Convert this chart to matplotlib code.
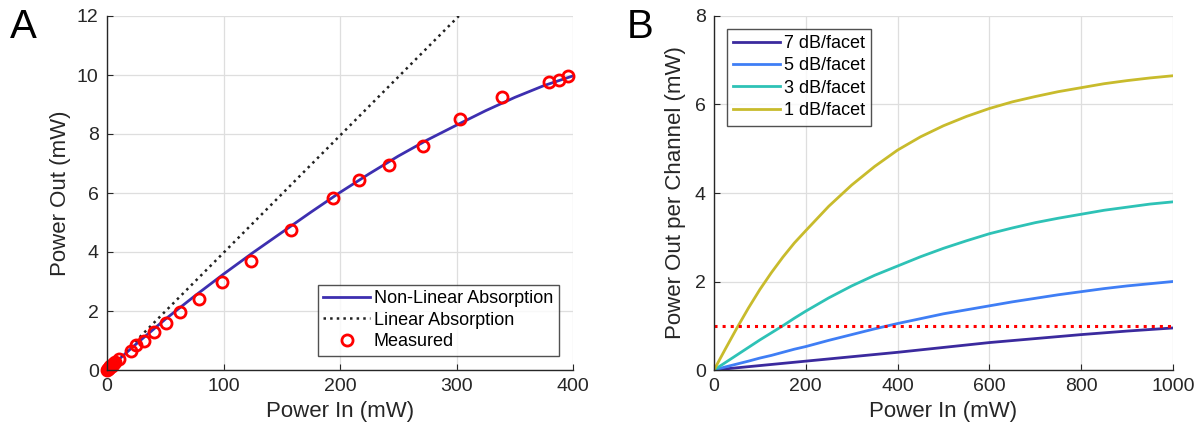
import numpy as np
import matplotlib
matplotlib.use('Agg')
import matplotlib.pyplot as plt

plt.rcParams['font.family'] = ['Liberation Sans', 'DejaVu Sans']

# ---- Panel A data ----
meas_in = [0, 0.5, 1, 1.5, 2, 2.5, 3, 4, 5, 6, 7, 10.3, 20.3, 24.9, 31.8, 40.3, 50.6, 62.9,
           78.6, 99, 123.6, 158, 193.7, 216.6, 242.4, 271, 303, 339.3, 379.7, 388.3, 396]
meas_out = [0, 0.02, 0.04, 0.06, 0.08, 0.1, 0.12, 0.15, 0.19, 0.23, 0.27, 0.37, 0.65, 0.84, 0.99,
            1.28, 1.60, 1.98, 2.40, 2.98, 3.68, 4.75, 5.83, 6.45, 6.95, 7.59, 8.52, 9.26, 9.76,
            9.83, 9.95]
nl_in = [0, 25, 50, 75, 100, 125, 150, 175, 200, 225, 250, 275, 300, 325, 350, 375, 400]
nl_out = [0, 0.88, 1.72, 2.50, 3.25, 3.97, 4.66, 5.35, 6.02, 6.65, 7.25, 7.80, 8.30, 8.79,
          9.24, 9.64, 9.97]
lin_in = [0, 302]
lin_out = [0, 12]

# ---- Panel B data ----
pin_b = [0, 25, 50, 75, 100, 125, 150, 175, 200, 250, 300, 350, 400, 450, 500, 550, 600, 650,
         700, 750, 800, 850, 900, 950, 1000]
out_1db = [0, 0.48, 0.95, 1.40, 1.82, 2.20, 2.55, 2.87, 3.15, 3.70, 4.18, 4.60, 4.97, 5.27,
           5.52, 5.73, 5.91, 6.06, 6.18, 6.29, 6.38, 6.47, 6.54, 6.60, 6.65]
out_3db = [0, 0.17, 0.34, 0.51, 0.68, 0.84, 1.0, 1.17, 1.33, 1.63, 1.90, 2.14, 2.35, 2.56,
           2.75, 2.92, 3.08, 3.21, 3.33, 3.43, 3.52, 3.61, 3.68, 3.75, 3.80]
out_5db = [0, 0.07, 0.135, 0.20, 0.27, 0.33, 0.40, 0.47, 0.53, 0.67, 0.80, 0.93, 1.05, 1.16,
           1.27, 1.36, 1.45, 1.54, 1.62, 1.70, 1.77, 1.84, 1.90, 1.95, 2.00]
out_7db = [0, 0.025, 0.05, 0.075, 0.10, 0.125, 0.15, 0.175, 0.20, 0.25, 0.30, 0.35, 0.40,
           0.455, 0.51, 0.565, 0.62, 0.665, 0.71, 0.755, 0.80, 0.84, 0.88, 0.915, 0.95]
labels_b = ['7 dB/facet', '5 dB/facet', '3 dB/facet', '1 dB/facet']
colors_b = ['#3b2a9e', '#3f7ef5', '#2ec2b6', '#c8bb2c']
threshold = 1.0

txt = '#262626'
fig = plt.figure(figsize=(12.01, 4.36), dpi=100)
axA = fig.add_axes([107/1201, 66/436, 466/1201, 354/436])
axB = fig.add_axes([714/1201, 66/436, 459/1201, 354/436])


def style(ax):
    ax.grid(True, color='#dedede', linewidth=0.9)
    ax.set_axisbelow(True)
    for s in ['top', 'right']:
        ax.spines[s].set_visible(False)
    for s in ['left', 'bottom']:
        ax.spines[s].set_color('#262626')
        ax.spines[s].set_linewidth(1.0)
    ax.tick_params(direction='in', length=4, width=0.8, colors=txt, labelsize=14,
                   labelcolor=txt, pad=6)


# Panel A
axA.plot(nl_in, nl_out, color='#3d2fb0', linewidth=2.0, label='Non-Linear Absorption')
axA.plot(lin_in, lin_out, color='#222222', linestyle=':', linewidth=1.8, label='Linear Absorption')
axA.plot(meas_in, meas_out, 'o', markerfacecolor='none', markeredgecolor='red', markersize=8,
         markeredgewidth=2.0, label='Measured', clip_on=False)
axA.set_xlim(0, 400)
axA.set_ylim(0, 12)
axA.set_xticks([0, 100, 200, 300, 400])
axA.set_yticks([0, 2, 4, 6, 8, 10, 12])
axA.set_xlabel('Power In (mW)', fontsize=16, color=txt)
axA.set_ylabel('Power Out (mW)', fontsize=16, color=txt, labelpad=4)
style(axA)
legA = axA.legend(loc='lower right', fontsize=13, frameon=True, fancybox=False,
                  edgecolor='#262626', handlelength=2.6, borderaxespad=0.8,
                  labelspacing=0.25, handletextpad=0.2, borderpad=0.3)
legA.get_frame().set_linewidth(1.0)

# Panel B
series_b = [out_7db, out_5db, out_3db, out_1db]
for vals, lab, col in zip(series_b, labels_b, colors_b):
    axB.plot(pin_b, vals, color=col, linewidth=2.0, label=lab)
axB.plot([pin_b[0], pin_b[-1]], [threshold, threshold], color='red', linestyle=':',
         linewidth=2.2)
axB.set_xlim(0, 1000)
axB.set_ylim(0, 8)
axB.set_xticks([0, 200, 400, 600, 800, 1000])
axB.set_yticks([0, 2, 4, 6, 8])
axB.set_xlabel('Power In (mW)', fontsize=16, color=txt)
axB.set_ylabel('Power Out per Channel (mW)', fontsize=16, color=txt, labelpad=6)
style(axB)
legB = axB.legend(loc='upper left', fontsize=13, frameon=True, fancybox=False,
                  edgecolor='#262626', handlelength=2.6, borderaxespad=0.7,
                  labelspacing=0.3, handletextpad=0.2, borderpad=0.35)
legB.get_frame().set_linewidth(1.0)

fig.text(10/1201, 1 - 38/436, 'A', fontsize=29, color='black', va='baseline', ha='left')
fig.text(627/1201, 1 - 38/436, 'B', fontsize=29, color='black', va='baseline', ha='left')

fig.savefig('out.png', dpi=100)
